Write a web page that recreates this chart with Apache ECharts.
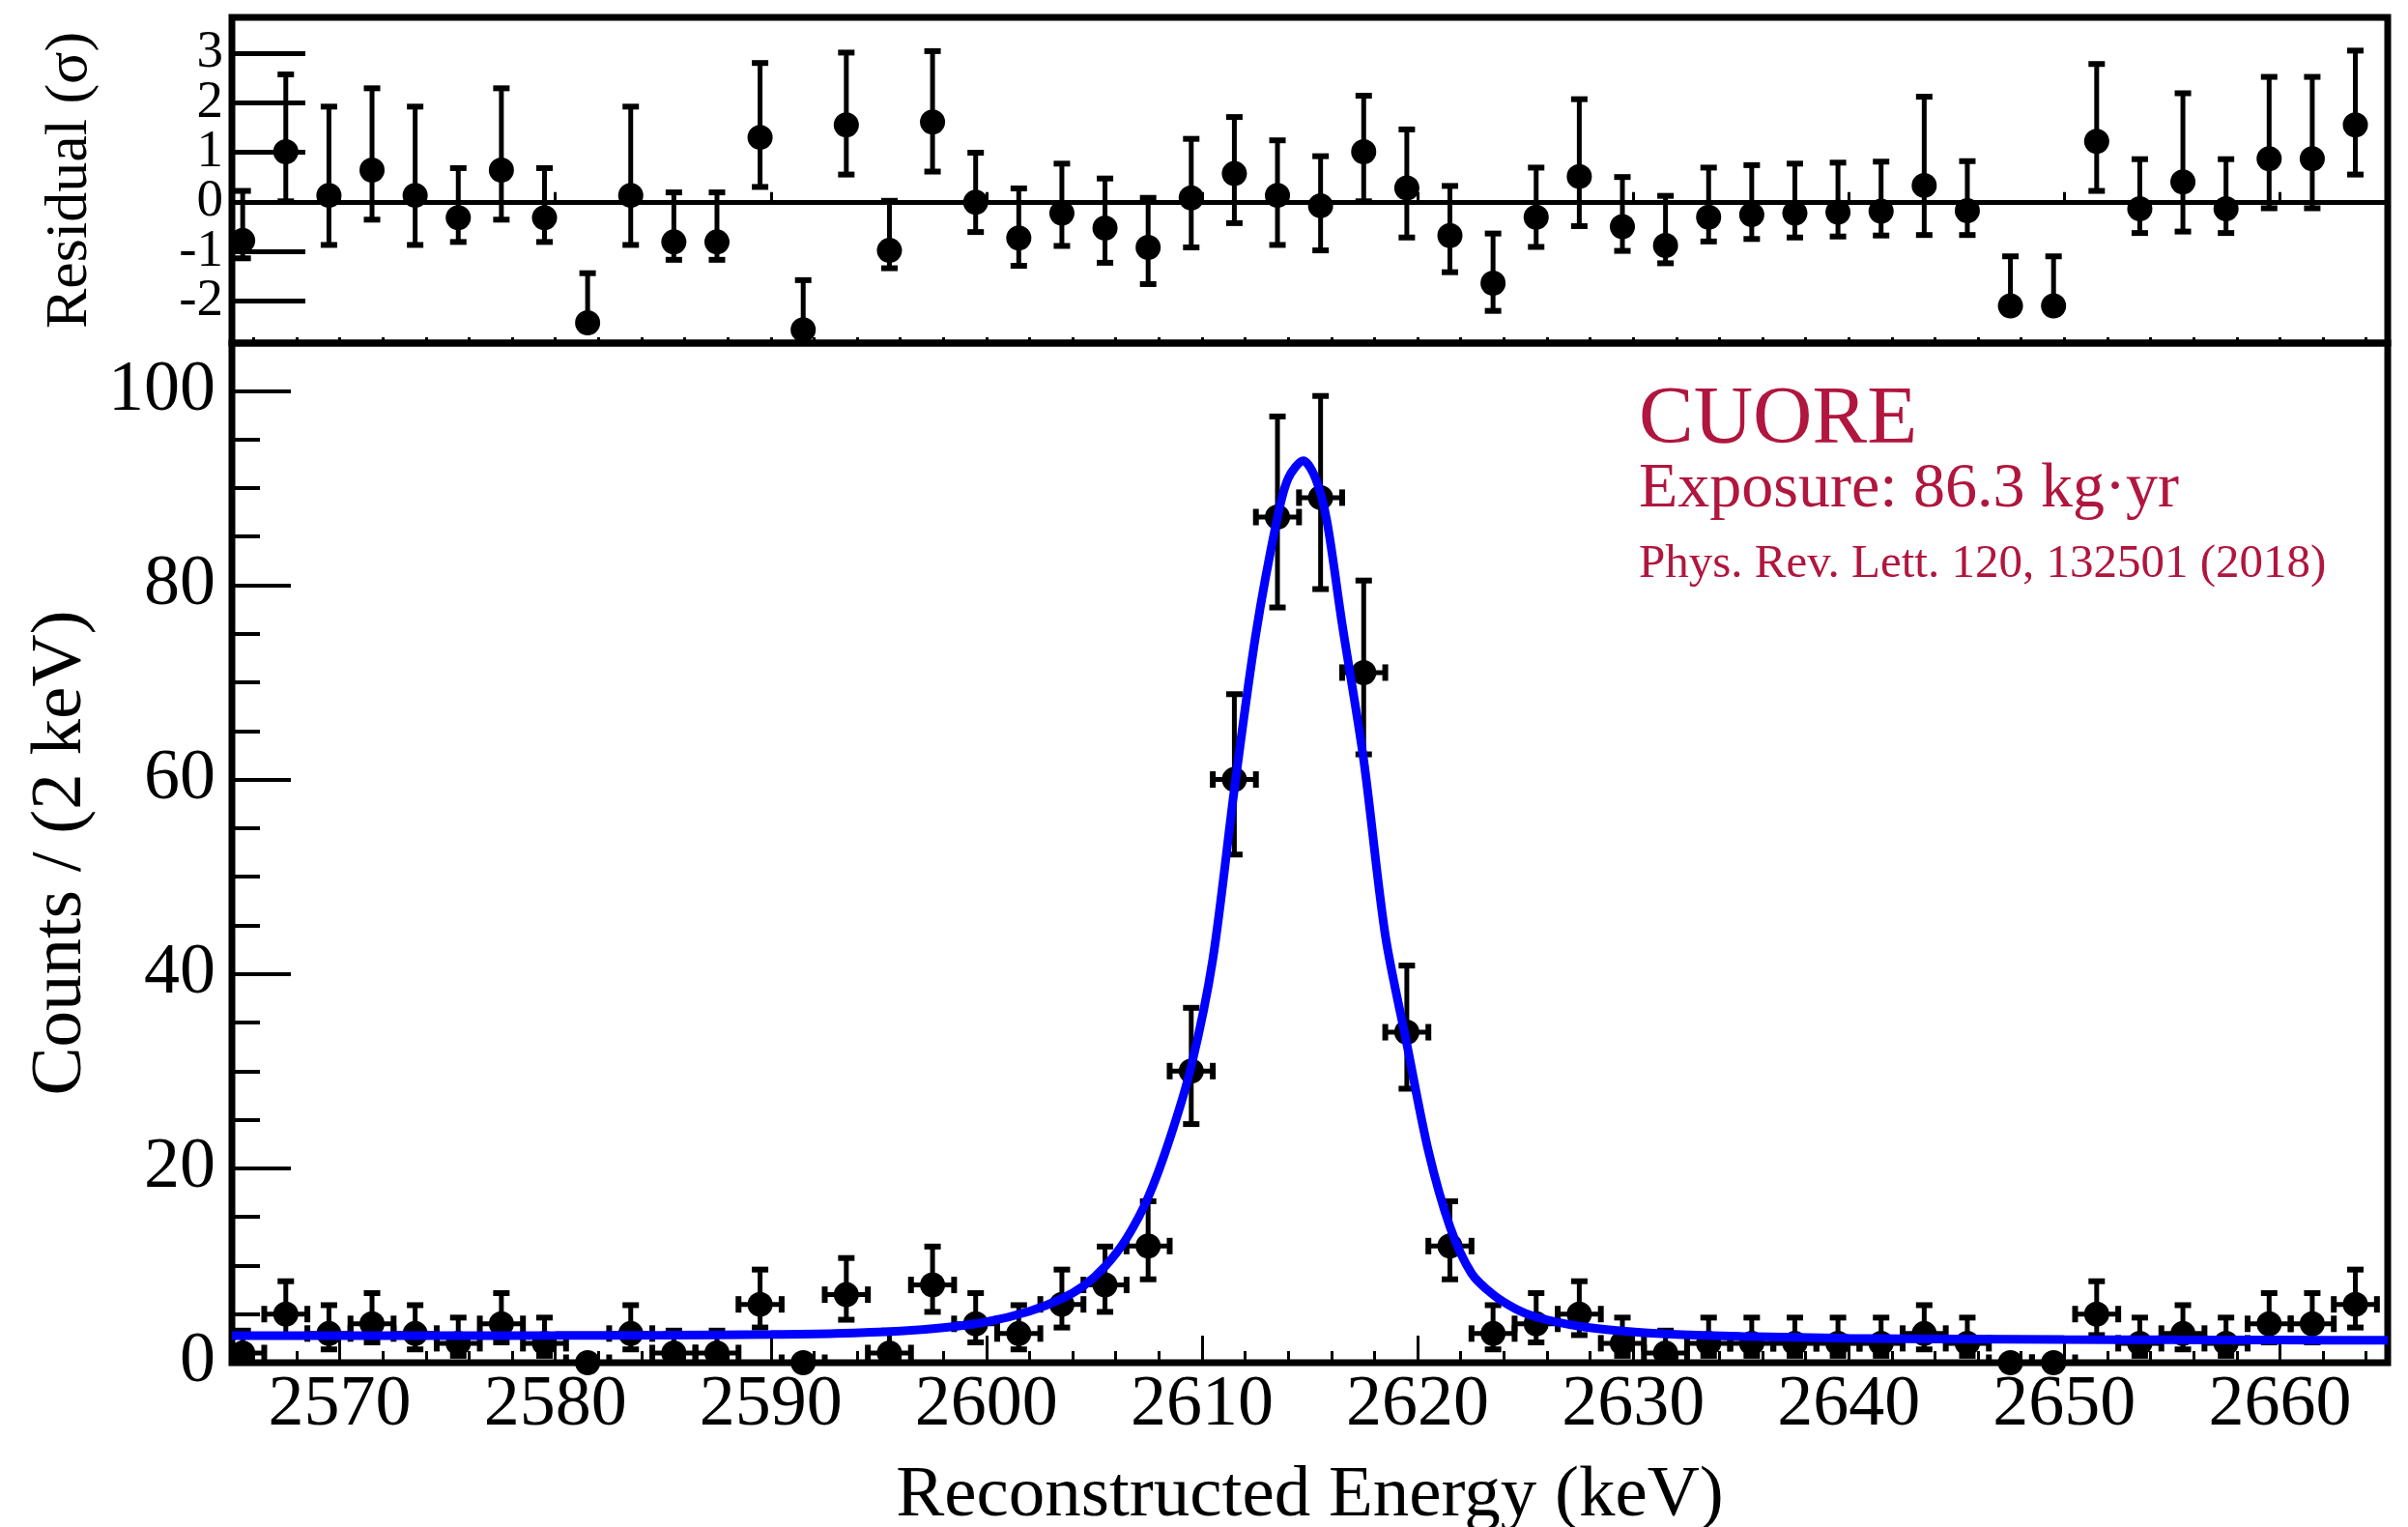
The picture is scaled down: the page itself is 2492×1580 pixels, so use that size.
<!DOCTYPE html>
<html>
<head>
<meta charset="utf-8">
<title>CUORE 208Tl line</title>
<script src="https://cdn.jsdelivr.net/npm/echarts@6.0.0/dist/echarts.min.js"></script>
<style>html,body{margin:0;padding:0;background:#fff;}</style>
</head>
<body>
<div id="main" style="width:2492px;height:1580px"></div>
<script>
// bin centres (keV), 2 keV bins
var binWidth = 2;
var energy = [2565.5, 2567.5, 2569.5, 2571.5, 2573.5, 2575.5, 2577.5, 2579.5, 2581.5, 2583.5,
              2585.5, 2587.5, 2589.5, 2591.5, 2593.5, 2595.5, 2597.5, 2599.5, 2601.5, 2603.5,
              2605.5, 2607.5, 2609.5, 2611.5, 2613.5, 2615.5, 2617.5, 2619.5, 2621.5, 2623.5,
              2625.5, 2627.5, 2629.5, 2631.5, 2633.5, 2635.5, 2637.5, 2639.5, 2641.5, 2643.5,
              2645.5, 2647.5, 2649.5, 2651.5, 2653.5, 2655.5, 2657.5, 2659.5, 2661.5, 2663.5];
var counts = [1, 5, 3, 4, 3, 2, 4, 2, 0, 3,
              1, 1, 6, 0, 7, 1, 8, 4, 3, 6,
              8, 12, 30, 60, 87, 89, 71, 34, 12, 3,
              4, 5, 2, 1, 2, 2, 2, 2, 2, 3,
              2, 0, 0, 5, 2, 3, 2, 4, 4, 6];
var errLow = [0.83, 2.16, 1.63, 1.91, 1.63, 1.29, 1.91, 1.29, 0, 1.63,
              0.83, 0.83, 2.38, 0, 2.58, 0.83, 2.77, 1.91, 1.63, 2.38,
              2.77, 3.42, 5.45, 7.72, 9.30, 9.41, 8.41, 5.81, 3.42, 1.63,
              1.91, 2.16, 1.29, 0.83, 1.29, 1.29, 1.29, 1.29, 1.29, 1.63,
              1.29, 0, 0, 2.16, 1.29, 1.63, 1.29, 1.91, 1.91, 2.38];
var errHigh = [2.30, 3.38, 2.92, 3.16, 2.92, 2.64, 3.16, 2.64, 0, 2.92,
               2.30, 2.30, 3.58, 0, 3.77, 2.30, 3.95, 3.16, 2.92, 3.58,
               3.95, 4.61, 6.51, 8.78, 10.35, 10.46, 9.47, 6.86, 4.61, 2.92,
               3.16, 3.38, 2.64, 2.30, 2.64, 2.64, 2.64, 2.64, 2.64, 2.92,
               2.64, 0, 0, 3.38, 2.64, 2.92, 2.64, 3.16, 3.16, 3.58];

// pulls (data - fit) / sigma
var resid = [-0.78, 1.01, 0.13, 0.64, 0.13, -0.32, 0.64, -0.32, -2.44, 0.13,
             -0.81, -0.81, 1.30, -2.58, 1.55, -0.98, 1.61, -0.01, -0.73, -0.23,
             -0.53, -0.92, 0.08, 0.57, 0.13, -0.08, 1.01, 0.28, -0.68, -1.64,
             -0.31, 0.51, -0.50, -0.88, -0.31, -0.26, -0.23, -0.21, -0.19, 0.33,
             -0.18, -2.10, -2.10, 1.22, -0.14, 0.40, -0.14, 0.87, 0.87, 1.55];
var residLow = [0.36, 1, 1, 1, 1, 0.49, 1, 0.49, 0, 1,
                0.36, 0.36, 1, 0, 1, 0.36, 1, 0.60, 0.56, 0.66,
                0.70, 0.74, 1, 1, 1, 0.90, 1, 1, 0.74, 0.56,
                0.60, 1, 0.49, 0.36, 0.49, 0.49, 0.49, 0.49, 0.49, 1,
                0.49, 0, 0, 1, 0.49, 1, 0.49, 1, 1, 1];
var residHigh = [1, 1.56, 1.79, 1.65, 1.79, 1, 1.65, 1, 1, 1.79,
                 1, 1, 1.50, 1, 1.46, 1, 1.43, 1, 1, 1,
                 1, 1, 1.19, 1.14, 1.11, 1, 1.13, 1.18, 1, 1,
                 1, 1.56, 1, 1, 1, 1, 1, 1, 1, 1.79,
                 1, 1, 1, 1.56, 1, 1.79, 1, 1.65, 1.65, 1.50];

// fitted line shape
var fitX = [2565, 2570, 2575, 2580, 2585, 2590, 2593, 2596, 2598, 2600,
            2602, 2603.5, 2604.5, 2605.5, 2606.5, 2607.5, 2608.5, 2609.5, 2610.5, 2611.5,
            2612.5, 2613.5, 2614, 2614.7, 2615.3, 2615.8, 2616.5, 2617.5, 2618.5, 2619.5,
            2620.5, 2621.5, 2622.5, 2623.5, 2624.5, 2625.5, 2627.5, 2629.5, 2632, 2635,
            2640, 2645, 2650, 2655, 2660, 2665];
var fitY = [2.78, 2.79, 2.79, 2.80, 2.83, 2.90, 3.0, 3.25, 3.6, 4.2,
            5.3, 6.6, 7.9, 9.9, 12.8, 17.0, 23.0, 30.5, 41.5, 59.0,
            75.0, 87.0, 91.0, 92.8, 90.8, 86.5, 76.0, 62.0, 44.0, 32.8,
            21.8, 14.0, 9.2, 7.0, 5.6, 4.7, 3.75, 3.25, 2.9, 2.7,
            2.52, 2.44, 2.38, 2.35, 2.33, 2.30];

var xMajor = [2570, 2580, 2590, 2600, 2610, 2620, 2630, 2640, 2650, 2660];
var xMinor = [2566, 2568, 2570, 2572, 2574, 2576, 2578, 2580, 2582, 2584, 2586, 2588, 2590, 2592,
              2594, 2596, 2598, 2600, 2602, 2604, 2606, 2608, 2610, 2612, 2614, 2616, 2618, 2620,
              2622, 2624, 2626, 2628, 2630, 2632, 2634, 2636, 2638, 2640, 2642, 2644, 2646, 2648,
              2650, 2652, 2654, 2656, 2658, 2660, 2662, 2664];
var yMajor = [0, 20, 40, 60, 80, 100];
var yMinor = [0, 5, 10, 15, 20, 25, 30, 35, 40, 45, 50, 55, 60, 65, 70, 75, 80, 85, 90, 95, 100];
var residMin = -2.85, residMax = 3.72;
var residTicks = [-2, -1, 0, 1, 2, 3];
// the two range ends are padded in so echarts' min/max label check drops them instead of -2 / 3
var residTickSlots = [residMin].concat(residTicks, [residMax]);

var serif = 'Liberation Serif';
var red = '#B0163E';

var countData = energy.map(function (e, i) { return [e, counts[i], errLow[i], errHigh[i]]; });
var residData = energy.map(function (e, i) { return [e, resid[i], residLow[i], residHigh[i]]; });
var fitData = fitX.map(function (e, i) { return [e, fitY[i]]; });

function plain(v) { return String(v); }
function residLabel(v) { return residTicks.indexOf(v) >= 0 ? String(v) : ''; }

function seg(x1, y1, x2, y2, w) {
    return { type: 'line', shape: { x1: x1, y1: y1, x2: x2, y2: y2 },
             style: { stroke: '#000', lineWidth: w } };
}

function errorBars(withX) {
    return function (params, api) {
        var x = api.value(0), y = api.value(1), lo = api.value(2), hi = api.value(3);
        var c = api.coord([x, y]);
        var kids = [];
        var cap = 8.5;
        if (hi > 0) {
            var t = api.coord([x, y + hi]);
            kids.push(seg(c[0], c[1], c[0], t[1], 5));
            kids.push(seg(c[0] - cap, t[1], c[0] + cap, t[1], 6));
        }
        if (lo > 0) {
            var b = api.coord([x, y - lo]);
            kids.push(seg(c[0], c[1], c[0], b[1], 5));
            kids.push(seg(c[0] - cap, b[1], c[0] + cap, b[1], 6));
        }
        if (withX) {
            var l = api.coord([x - binWidth / 2, y]);
            var r = api.coord([x + binWidth / 2, y]);
            kids.push(seg(l[0], c[1], r[0], c[1], 5));
            kids.push(seg(l[0], c[1] - cap, l[0], c[1] + cap, 6));
            kids.push(seg(r[0], c[1] - cap, r[0], c[1] + cap, 6));
        }
        return { type: 'group', children: kids };
    };
}

function xAxisDef(grid, ticks, len, labels) {
    return {
        type: 'value', gridIndex: grid, position: 'bottom', min: 2565, max: 2665,
        axisLine: { show: false }, splitLine: { show: false },
        axisTick: { show: true, inside: true, length: len, customValues: ticks,
                    lineStyle: { color: '#000', width: 3 } },
        axisLabel: labels ? { show: true, customValues: xMajor, formatter: plain, fontFamily: serif,
                              fontSize: 74, color: '#000', margin: 8 } : { show: false }
    };
}

var chart = echarts.init(document.getElementById('main'));
chart.setOption({
    animation: false,
    backgroundColor: '#fff',
    grid: [
        { left: 240, right: 21, top: 18, height: 337, show: true, borderColor: '#000', borderWidth: 7,
          outerBoundsMode: 'none' },
        { left: 240, right: 21, top: 355, bottom: 170, show: true, borderColor: '#000', borderWidth: 7,
          outerBoundsMode: 'none' }
    ],
    xAxis: [
        xAxisDef(0, xMajor, 10, false),
        xAxisDef(0, xMinor, 6, false),
        Object.assign(xAxisDef(1, xMajor, 28, true), {
            name: 'Reconstructed Energy (keV)', nameLocation: 'middle', nameGap: 101,
            nameTextStyle: { fontFamily: serif, fontSize: 75, color: '#000' }
        }),
        xAxisDef(1, xMinor, 12, false)
    ],
    yAxis: [
        {
            type: 'value', gridIndex: 0, min: residMin, max: residMax,
            name: 'Residual (σ)', nameLocation: 'middle', nameGap: 136,
            nameTextStyle: { fontFamily: serif, fontSize: 62, color: '#000' },
            axisLine: { show: false }, splitLine: { show: false },
            axisTick: { inside: true, length: 76, customValues: residTickSlots, lineStyle: { color: '#000', width: 5 } },
            axisLabel: { customValues: residTickSlots, formatter: residLabel, hideOverlap: false,
                         fontFamily: serif, fontSize: 55, lineHeight: 36, color: '#000', margin: 9 }
        },
        {
            type: 'value', gridIndex: 1, min: 0, max: 104.9, position: 'left',
            name: 'Counts / (2 keV)', nameLocation: 'middle', nameGap: 138,
            nameTextStyle: { fontFamily: serif, fontSize: 75, color: '#000' },
            axisLine: { show: false }, splitLine: { show: false },
            axisTick: { inside: true, length: 61, customValues: yMajor, lineStyle: { color: '#000', width: 4 } },
            axisLabel: { customValues: yMajor, formatter: plain, fontFamily: serif, fontSize: 74, color: '#000', margin: 17 }
        },
        {
            type: 'value', gridIndex: 1, min: 0, max: 104.9, position: 'left',
            axisLine: { show: false }, splitLine: { show: false },
            axisTick: { inside: true, length: 29, customValues: yMinor, lineStyle: { color: '#000', width: 4 } },
            axisLabel: { show: false }
        }
    ],
    series: [
        {
            type: 'custom', xAxisIndex: 0, yAxisIndex: 0, clip: true, z: 2,
            renderItem: errorBars(false), data: residData,
            markLine: {
                silent: true, symbol: 'none', label: { show: false },
                lineStyle: { color: '#000', width: 5, type: 'solid' },
                data: [{ yAxis: 0 }]
            }
        },
        {
            type: 'scatter', xAxisIndex: 0, yAxisIndex: 0, z: 3, clip: false,
            symbol: 'circle', symbolSize: 26, itemStyle: { color: '#000', opacity: 1 },
            data: residData.map(function (d) { return [d[0], d[1]]; })
        },
        {
            type: 'custom', xAxisIndex: 2, yAxisIndex: 1, clip: true, z: 2,
            renderItem: errorBars(true), data: countData
        },
        {
            type: 'scatter', xAxisIndex: 2, yAxisIndex: 1, z: 3, clip: false,
            symbol: 'circle', symbolSize: 26, itemStyle: { color: '#000', opacity: 1 },
            data: countData.map(function (d) { return [d[0], d[1]]; })
        },
        {
            type: 'line', xAxisIndex: 2, yAxisIndex: 1, z: 5,
            data: fitData, smooth: 0.3, showSymbol: false,
            lineStyle: { color: '#0000ff', width: 9 }
        }
    ],
    graphic: [
        { type: 'text', left: 1696, top: 393, style: { text: 'CUORE', fill: red,
          font: '85px "Liberation Serif"' } },
        { type: 'text', left: 1696, top: 474, style: { text: 'Exposure: 86.3 kg·yr', fill: red,
          font: '66px "Liberation Serif"' } },
        { type: 'text', left: 1696, top: 560, style: { text: 'Phys. Rev. Lett. 120, 132501 (2018)', fill: red,
          font: '49px "Liberation Serif"' } }
    ]
});
</script>
</body>
</html>
